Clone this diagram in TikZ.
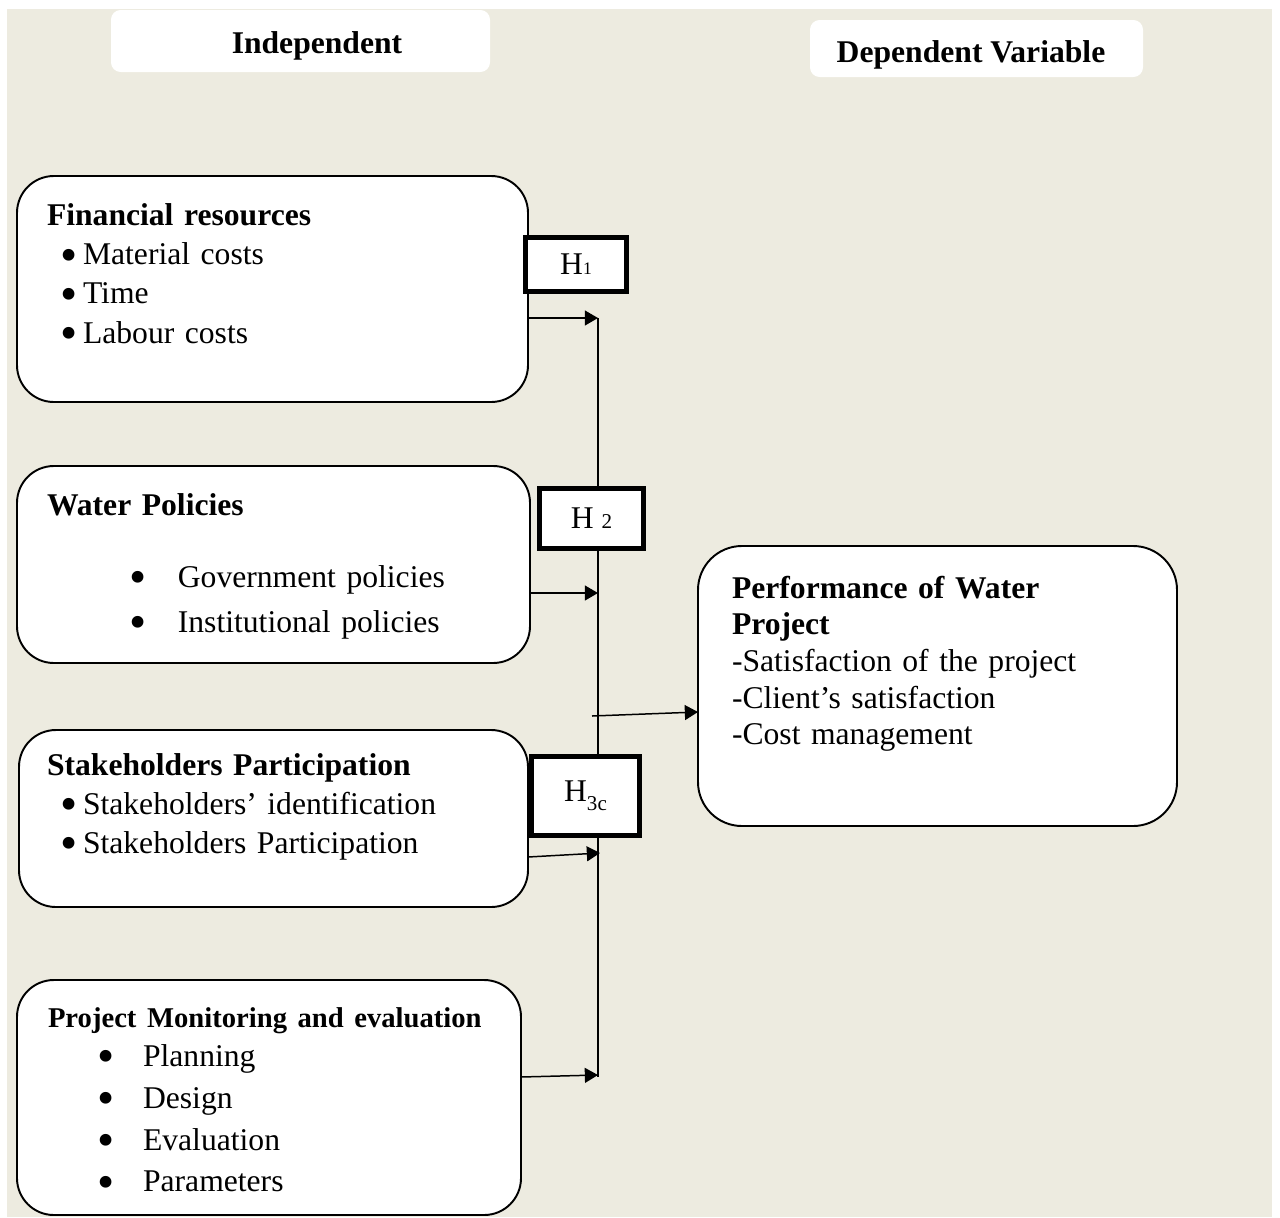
\documentclass[tikz,border=0pt]{standalone}
\usepackage{fontspec}
\setmainfont{Liberation Serif}
\usetikzlibrary{
  arrows.meta,
  calc
}
\definecolor{paper}{RGB}{237,235,224}
\newcommand{\blt}[2]{\hspace*{#1}\makebox[#2][l]{\raisebox{-0.21em}{\scalebox{1.55}{\textbullet}}}}

\begin{document}
\begin{tikzpicture}[
  x=0.02cm, y=-0.02cm,
  every node/.style = {inner sep=0pt, outer sep=0pt},
  boxsize/.style 2 args = {minimum width=#1*0.02cm, minimum height=#2*0.02cm},
  headbox/.style = {fill=white, rounded corners=5.5pt},
  headtext/.style = {anchor=base, font=\fontsize{18}{20}\selectfont\bfseries},
  varbox/.style = {draw, line width=1.1pt, fill=white, rounded corners=21pt},
  hypbox/.style = {draw, line width=2.8pt, fill=white,
    font=\fontsize{18}{20}\selectfont},
  txt/.style = {anchor=base west, align=left, text width=9.6cm,
    font=\fontsize{18}{#1}\selectfont}]
    \tikzstyle{arr}=[line width=0.85pt, -{Triangle[length=7.5pt,width=8.5pt]}]
    \tikzstyle{bus}=[line width=0.85pt]
  \useasboundingbox (0,0) rectangle (1280,1217);
  \fill[white] (0,0) rectangle (1280,1217);
  \fill[paper] (7,9) rectangle (1272,1217);
  % column headers
  \node[headbox, boxsize={379}{62}] (indbox) at (300.5,41) {};
  \node[headtext] (indtxt) at (317,53) {Independent};
  \node[headbox, boxsize={333}{57}] (depbox) at (976.5,48.5) {};
  \node[headtext] (deptxt) at (971,62) {Dependent Variable};
  % independent variables
  \node[varbox, boxsize={511}{226}] (fin) at (272.5,289) {};
  \node[txt=22.4pt] (fintxt) at (47,225) {\textbf{Financial resources}\\
    \blt{7.4pt}{13.1pt}Material costs\\
    \blt{7.4pt}{13.1pt}Time\\
    \blt{7.4pt}{13.1pt}Labour costs};
  \node[varbox, boxsize={513}{197}] (pol) at (273.5,564.5) {};
  \node[txt=25.6pt] (poltxt) at (47,515) {\textbf{Water Policies}\\[15.4pt]
    \blt{47.2pt}{27.3pt}Government policies\\
    \blt{47.2pt}{27.3pt}Institutional policies};
  \node[varbox, boxsize={509}{177}] (stake) at (273.5,818.5) {};
  \node[txt=22.2pt] (staketxt) at (47,775) {\textbf{Stakeholders Participation}\\
    \blt{7.4pt}{13.1pt}Stakeholders’ identification\\
    \blt{7.4pt}{13.1pt}Stakeholders Participation};
  \node[varbox, boxsize={504}{235}] (mon) at (269,1097.5) {};
  \node[txt=23.9pt] (montxt) at (48,1027) {{\fontsize{16.3}{19}\selectfont\bfseries
    Project Monitoring and evaluation}\\[-1.7pt]
    \blt{27.9pt}{26.2pt}Planning\\
    \blt{27.9pt}{26.2pt}Design\\
    \blt{27.9pt}{26.2pt}Evaluation\\
    \blt{27.9pt}{26.2pt}Parameters};
  % dependent variable
  \node[varbox, rounded corners=25pt, boxsize={479}{280}] (perf) at (937.5,686) {};
  \node[txt=20.9pt] (perftxt) at (732,598) {\textbf{Performance of Water}\\
    \textbf{Project}\\
    -Satisfaction of the project\\
    -Client’s satisfaction\\
    -Cost management};
  % connectors
  \coordinate (bus1) at (598,318);
  \coordinate (bus2) at (598,593);
  \coordinate (bus3) at (600,853);
  \coordinate (bus4) at (598,1075);
  \coordinate (busend) at (598,1077);
  \coordinate (busout) at (592,716);
  \draw[bus] (bus1) -- (busend);
  \draw[arr] (fin.east |- bus1) -- (bus1);
  \draw[arr] (pol.east |- bus2) -- (bus2);
  \draw[arr] (stake.east |- 0,857) -- (bus3);
  \draw[arr] (mon.east |- 0,1077) -- (bus4);
  \draw[arr] (busout) -- (perf.west |- 0,712);
  % hypotheses
  \node[hypbox, boxsize={101}{54}] (h1) at (576,264.5) {H{\fontsize{10}{10}\selectfont 1}};
  \node[hypbox, boxsize={104}{60}] (h2) at (591.5,518.5) {H {\fontsize{12}{12}\selectfont 2}};
  \node[hypbox, boxsize={108}{79}] (h3) at (585.5,796) {H\raisebox{-5pt}{\fontsize{12}{12}\selectfont 3c}};
\end{tikzpicture}
\end{document}
